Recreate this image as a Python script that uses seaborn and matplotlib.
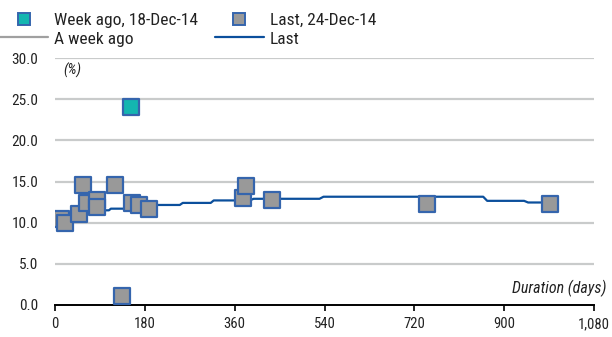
import matplotlib
matplotlib.use("Agg")
import matplotlib.pyplot as plt
from matplotlib.lines import Line2D
import seaborn as sns
import pandas as pd

# Yield by loan duration
last_days = [12, 21, 49, 57, 64, 84, 84, 120, 134, 154, 168, 188, 377, 383, 434, 745, 991]
last_yield = [10.4, 9.9, 11.0, 14.6, 12.4, 12.7, 11.9, 14.6, 1.1, 12.4, 12.1, 11.7, 13.0, 14.5, 12.7, 12.3, 12.3]

week_days = [153]
week_yield = [24.1]

# Fitted curve (latest)
curve_days = [10, 28, 32, 58, 62, 92, 96, 108, 112, 140, 146, 160, 166, 195, 200,
              250, 256, 312, 318, 390, 398, 530, 538, 858, 866, 940, 948, 990]
curve_yield = [10.9, 10.9, 11.1, 11.1, 11.3, 11.3, 11.5, 11.5, 11.7, 11.7, 11.8, 11.8, 12.0, 12.0, 12.15,
               12.15, 12.4, 12.4, 12.7, 12.7, 12.9, 12.9, 13.15, 13.15, 12.65, 12.65, 12.45, 12.45]

x_ticks = [0, 180, 360, 540, 720, 900, 1080]
x_labels = ["0", "180", "360", "540", "720", "900", "1,080"]
y_ticks = [0, 5, 10, 15, 20, 25, 30]
y_labels = ["0.0", "5.0", "10.0", "15.0", "20.0", "25.0", "30.0"]

sns.set_theme(style="white")
plt.rcParams["font.family"] = ["Roboto Condensed", "DejaVu Sans"]

GRID = "#c9cbcb"
EDGE = "#3565ad"
GREY = "#999999"
TEAL = "#14b6b0"
BLUE = "#0b4f9c"
TXT = "#222222"

fig = plt.figure(figsize=(6.12, 3.37), dpi=100)
ax = fig.add_axes([55 / 612, 1 - 305 / 337, (594 - 55) / 612, (305 - 58) / 337])

for v in y_ticks[1:]:
    ax.axhline(v, color=GRID, lw=1.6, zorder=0)

curve = pd.DataFrame({"days": curve_days, "yield": curve_yield})
sns.lineplot(data=curve, x="days", y="yield", color=BLUE, lw=1.6, ax=ax, zorder=2, sort=False)

last = pd.DataFrame({"days": last_days, "yield": last_yield})
sns.scatterplot(data=last, x="days", y="yield", marker="s", s=135, color=GREY,
                edgecolor=EDGE, linewidth=1.6, ax=ax, zorder=3)
week = pd.DataFrame({"days": week_days, "yield": week_yield})
sns.scatterplot(data=week, x="days", y="yield", marker="s", s=135, color=TEAL,
                edgecolor=EDGE, linewidth=1.6, ax=ax, zorder=3)

ax.set_xlim(0, 1080)
ax.set_ylim(0, 30)
ax.set_xticks(x_ticks)
ax.set_xticklabels(x_labels)
ax.set_yticks(y_ticks)
ax.set_yticklabels(y_labels)
ax.set_xlabel("")
ax.set_ylabel("")
ax.tick_params(axis="x", direction="out", length=4, width=1.2, color="black",
               labelsize=10.5, labelcolor=TXT, pad=5, bottom=True)
ax.tick_params(axis="y", length=0, labelsize=11, labelcolor=TXT, pad=12)
for side in ["left", "right", "top"]:
    ax.spines[side].set_visible(False)
ax.spines["bottom"].set_color("black")
ax.spines["bottom"].set_linewidth(1.4)

ax.text(0.015, 0.951, "(%)", transform=ax.transAxes, fontsize=10.5, style="italic",
        color=TXT, ha="left", va="center",
        bbox=dict(facecolor="white", edgecolor="none", pad=2))
ax.text(1.0223, 0.069, "Duration (days)", transform=ax.transAxes, fontsize=11.5,
        style="italic", color=TXT, ha="right", va="center")

handles = [
    Line2D([], [], marker="s", ls="none", markersize=8.5, markerfacecolor=TEAL,
           markeredgecolor=EDGE, markeredgewidth=1.4),
    Line2D([], [], color="#a0a0a0", lw=1.6),
    Line2D([], [], marker="s", ls="none", markersize=8.5, markerfacecolor=GREY,
           markeredgecolor=EDGE, markeredgewidth=1.4),
    Line2D([], [], color=BLUE, lw=1.6),
]
labels = ["Week ago, 18-Dec-14", "A week ago", "Last, 24-Dec-14", "Last"]
fig.legend(handles, labels, ncol=2, loc="upper left", bbox_to_anchor=(-0.0075, 0.975),
           frameon=False, fontsize=12.5, handlelength=2.8, handletextpad=0.35,
           labelspacing=0.2, columnspacing=0.95, borderaxespad=0, borderpad=0.25,
           labelcolor=TXT)

fig.savefig("out.png", dpi=100)
